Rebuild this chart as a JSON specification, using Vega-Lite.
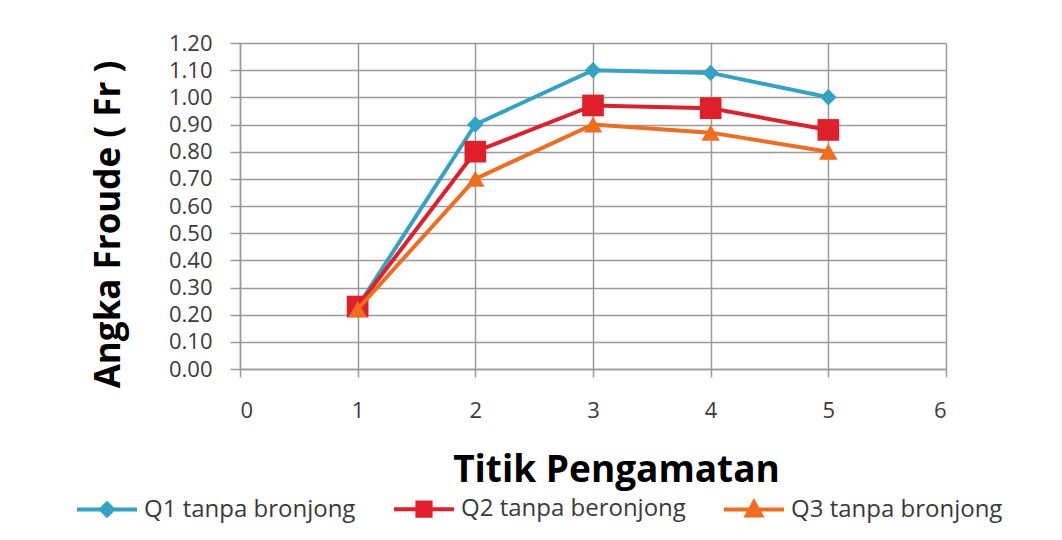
{
  "$schema": "https://vega.github.io/schema/vega-lite/v6.json",
  "width": 706,
  "height": 326,
  "autosize": {"type": "none"},
  "padding": {"left": 240, "top": 43, "right": 116, "bottom": 171},
  "background": "white",
  "config": {
    "font": "Open Sans",
    "view": {"stroke": null},
    "axis": {
      "gridColor": "#9a9a9a",
      "gridWidth": 1.5,
      "domainColor": "#9a9a9a",
      "domainWidth": 1.5,
      "tickColor": "#9a9a9a",
      "tickWidth": 1.5,
      "labelColor": "#3a3a3a",
      "labelFontSize": 22,
      "labelFont": "Open Sans",
      "titleFont": "Open Sans",
      "titleFontWeight": "bold",
      "titleColor": "#000000"
    },
    "legend": {"labelFont": "Open Sans"}
  },
  "data": {
    "values": [
      {"x": 1, "fr": 0.23, "series": "Q1 tanpa bronjong"},
      {"x": 2, "fr": 0.90, "series": "Q1 tanpa bronjong"},
      {"x": 3, "fr": 1.10, "series": "Q1 tanpa bronjong"},
      {"x": 4, "fr": 1.09, "series": "Q1 tanpa bronjong"},
      {"x": 5, "fr": 1.00, "series": "Q1 tanpa bronjong"},
      {"x": 1, "fr": 0.23, "series": "Q2 tanpa beronjong"},
      {"x": 2, "fr": 0.80, "series": "Q2 tanpa beronjong"},
      {"x": 3, "fr": 0.97, "series": "Q2 tanpa beronjong"},
      {"x": 4, "fr": 0.96, "series": "Q2 tanpa beronjong"},
      {"x": 5, "fr": 0.88, "series": "Q2 tanpa beronjong"},
      {"x": 1, "fr": 0.22, "series": "Q3 tanpa bronjong"},
      {"x": 2, "fr": 0.70, "series": "Q3 tanpa bronjong"},
      {"x": 3, "fr": 0.90, "series": "Q3 tanpa bronjong"},
      {"x": 4, "fr": 0.87, "series": "Q3 tanpa bronjong"},
      {"x": 5, "fr": 0.80, "series": "Q3 tanpa bronjong"}
    ]
  },
  "encoding": {
    "x": {
      "field": "x",
      "type": "quantitative",
      "scale": {"domain": [0, 6], "nice": false},
      "axis": {
        "title": "Titik Pengamatan",
        "titleFontSize": 37,
        "values": [0, 1, 2, 3, 4, 5, 6],
        "format": "d",
        "tickSize": 8,
        "labelPadding": 23,
        "titlePadding": 31,
        "titleX": 376
      }
    },
    "y": {
      "field": "fr",
      "type": "quantitative",
      "scale": {"domain": [0, 1.2], "nice": false},
      "axis": {
        "title": "Angka Froude ( Fr )",
        "titleFontSize": 35,
        "values": [0, 0.1, 0.2, 0.3, 0.4, 0.5, 0.6, 0.7, 0.8, 0.9, 1.0, 1.1, 1.2],
        "format": ".2f",
        "tickSize": 10,
        "labelPadding": 18,
        "titlePadding": 42,
        "titleY": 181
      }
    }
  },
  "layer": [
    {
      "transform": [{"filter": "datum.series === 'Q1 tanpa bronjong'"}],
      "mark": {
        "type": "line",
        "strokeWidth": 4,
        "color": "#31A3C4",
        "point": {"shape": "diamond", "filled": true, "opacity": 1, "size": 270, "color": "#31A3C4"}
      }
    },
    {
      "transform": [{"filter": "datum.series === 'Q2 tanpa beronjong'"}],
      "mark": {
        "type": "line",
        "strokeWidth": 4,
        "color": "#E11F2B",
        "point": {"shape": "square", "filled": true, "opacity": 1, "size": 470, "color": "#E11F2B"}
      }
    },
    {
      "transform": [{"filter": "datum.series === 'Q3 tanpa bronjong'"}],
      "mark": {
        "type": "line",
        "strokeWidth": 4,
        "color": "#F06C1E",
        "point": {"shape": "triangle-up", "filled": true, "opacity": 1, "size": 340, "color": "#F06C1E"}
      }
    },
    {
      "transform": [{"filter": "datum.x > 100"}],
      "mark": {"type": "point", "filled": true, "opacity": 1, "fillOpacity": 1, "strokeOpacity": 1, "strokeWidth": 4},
      "encoding": {
        "fill": {
          "field": "series",
          "type": "nominal",
          "scale": {
            "domain": ["Q1 tanpa bronjong", "Q2 tanpa beronjong", "Q3 tanpa bronjong"],
            "range": ["#31A3C4", "#E11F2B", "#F06C1E"]
          },
          "legend": {
            "title": null,
            "orient": "none",
            "direction": "horizontal",
            "legendX": -165,
            "legendY": 434,
            "symbolSize": 3600,
            "symbolStrokeWidth": 4,
            "symbolOpacity": 1,
            "labelFontSize": 24,
            "labelColor": "#3a3a3a",
            "labelOffset": 5,
            "columnPadding": 30,
            "labelLimit": 400
          }
        },
        "stroke": {
          "field": "series",
          "type": "nominal",
          "scale": {
            "domain": ["Q1 tanpa bronjong", "Q2 tanpa beronjong", "Q3 tanpa bronjong"],
            "range": ["#31A3C4", "#E11F2B", "#F06C1E"]
          }
        },
        "shape": {
          "field": "series",
          "type": "nominal",
          "scale": {
            "domain": ["Q1 tanpa bronjong", "Q2 tanpa beronjong", "Q3 tanpa bronjong"],
            "range": [
              "M-1,0H1M0,-0.2L0.2,0L0,0.2L-0.2,0Z",
              "M-1,0H1M-0.22,-0.22H0.22V0.22H-0.22Z",
              "M-1,0H1M0,-0.24L0.24,0.2H-0.24Z"
            ]
          }
        }
      }
    }
  ]
}
